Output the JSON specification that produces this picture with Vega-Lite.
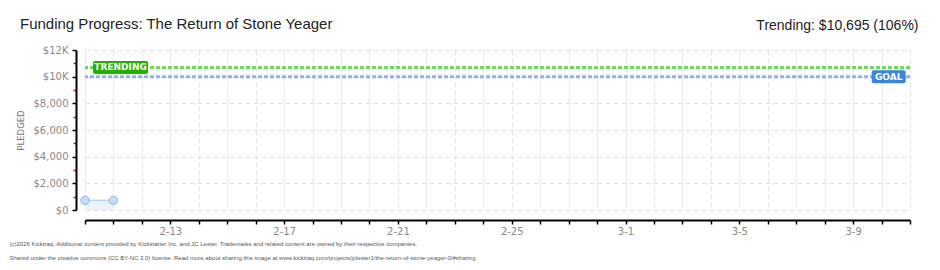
{
  "$schema": "https://vega.github.io/schema/vega-lite/v6.json",
  "autosize": {"type": "none"},
  "width": 825,
  "height": 160,
  "padding": {"left": 85, "top": 50, "right": 30, "bottom": 60},
  "background": "#ffffff",
  "config": {"view": {"stroke": null}},
  "title": {
    "text": "Funding Progress: The Return of Stone Yeager",
    "anchor": "start",
    "frame": "group",
    "dx": -65,
    "dy": 28,
    "offset": 14,
    "font": "Liberation Sans",
    "fontSize": 15,
    "fontWeight": "normal",
    "color": "#222222"
  },
  "datasets": {
    "pledges": [
      {"date": "2026-02-10T00:00:00", "pledged": 725},
      {"date": "2026-02-11T00:00:00", "pledged": 725}
    ],
    "lines": [
      {"name": "goal", "value": 10000},
      {"name": "trending", "value": 10695}
    ],
    "trendLabel": [{"label": "TRENDING", "date": "2026-02-11T06:00:00", "value": 10695}],
    "goalLabel": [{"label": "GOAL", "date": "2026-03-10T06:00:00", "value": 10000}]
  },
  "resolve": {"axis": {"x": "independent", "y": "independent"}},
  "layer": [
    {
      "data": {"name": "pledges"},
      "mark": {"type": "area", "color": "#eaf3fd", "opacity": 1},
      "encoding": {
        "x": {
          "field": "date",
          "type": "temporal",
          "scale": {"domain": [{"year": 2026, "month": 2, "date": 10}, {"year": 2026, "month": 3, "date": 11}]},
          "axis": {
            "tickCount": {"interval": "day", "step": 1},
            "labelExpr": "indexof(['2-13','2-17','2-21','2-25','3-1','3-5','3-9'], timeFormat(datum.value,'%-m-%-d')) >= 0 ? timeFormat(datum.value,'%-m-%-d') : ''",
            "labelOverlap": false,
            "labelFlush": false,
            "offset": 10,
            "tickSize": 4,
            "tickWidth": 1.5,
            "tickColor": "#000000",
            "domainColor": "#000000",
            "domainWidth": 2,
            "grid": true,
            "gridDash": [5, 3],
            "gridColor": "#e2e2e2",
            "gridWidth": 1,
            "labelFont": "DejaVu Sans",
            "labelFontSize": 10,
            "labelColor": "#888888",
            "labelPadding": 2,
            "title": [
              "(c)2026 Kicktraq. Additional content provided by Kickstarter Inc. and JC Lester. Trademarks and related content are owned by their respective companies.",
              "Shared under the creative commons (CC BY-NC 3.0) license. Read more about sharing this image at www.kicktraq.com/projects/jclester1/the-return-of-stone-yeager-0/#sharing"
            ],
            "titleX": -76,
            "titleY": 25,
            "titleAlign": "left",
            "titleAnchor": null,
            "titleBaseline": "alphabetic",
            "titleFont": "Liberation Sans",
            "titleFontSize": 6,
            "titleFontWeight": "normal",
            "titleColor": "#555555",
            "titleLineHeight": 14
          }
        },
        "y": {
          "field": "pledged",
          "type": "quantitative",
          "scale": {"domain": [0, 12000], "nice": false},
          "axis": {
            "values": [0, 1000, 2000, 3000, 4000, 5000, 6000, 7000, 8000, 9000, 10000, 11000, 12000],
            "labelExpr": "datum.value % 2000 != 0 ? '' : (datum.value >= 10000 ? '$' + (datum.value/1000) + 'K' : '$' + format(datum.value, ','))",
            "labelOverlap": false,
            "offset": 9,
            "domainColor": "#000000",
            "domainWidth": 2,
            "tickColor": {"expr": "datum.value % 2000 == 0 ? '#000000' : '#ee0000'"},
            "tickSize": {"expr": "datum.value % 2000 == 0 ? 4 : 3"},
            "tickWidth": 1.5,
            "grid": true,
            "gridDash": [5, 3],
            "gridColor": "#e2e2e2",
            "gridOpacity": {"expr": "datum.value % 2000 == 0 ? 1 : 0"},
            "labelFont": "DejaVu Sans",
            "labelFontSize": 10,
            "labelColor": "#888888",
            "labelPadding": 4,
            "title": "PLEDGED",
            "titleFont": "DejaVu Sans",
            "titleFontSize": 8.5,
            "titleFontWeight": "normal",
            "titleColor": "#777777",
            "titleAngle": -90,
            "titleX": -56,
            "titleY": 80,
            "titleAlign": "center",
            "titleBaseline": "middle"
          }
        }
      }
    },
    {
      "data": {"name": "pledges"},
      "mark": {"type": "line", "color": "#b5d3f5", "strokeWidth": 1.5},
      "encoding": {
        "x": {"field": "date", "type": "temporal", "axis": null},
        "y": {"field": "pledged", "type": "quantitative", "axis": null}
      }
    },
    {
      "data": {"name": "pledges"},
      "mark": {"type": "point", "shape": "circle", "filled": true, "fill": "#c6dcf6", "stroke": "#8db5e6", "strokeWidth": 1, "opacity": 1, "size": 70},
      "encoding": {
        "x": {"field": "date", "type": "temporal", "axis": null},
        "y": {"field": "pledged", "type": "quantitative", "axis": null}
      }
    },
    {
      "data": {"name": "lines"},
      "mark": {"type": "rule", "strokeWidth": 3, "strokeDash": [4, 2]},
      "encoding": {
        "y": {"field": "value", "type": "quantitative", "axis": null},
        "color": {
          "field": "name",
          "type": "nominal",
          "scale": {"domain": ["goal", "trending"], "range": ["#8fb4e3", "#6fd95e"]},
          "legend": null
        }
      }
    },
    {
      "data": {"name": "trendLabel"},
      "mark": {"type": "rect", "color": "#22b000", "width": 55, "height": 13, "cornerRadius": 2},
      "encoding": {
        "x": {"field": "date", "type": "temporal", "axis": null},
        "y": {"field": "value", "type": "quantitative", "axis": null}
      }
    },
    {
      "data": {"name": "goalLabel"},
      "mark": {"type": "rect", "color": "#3a86d6", "width": 34, "height": 13, "cornerRadius": 2},
      "encoding": {
        "x": {"field": "date", "type": "temporal", "axis": null},
        "y": {"field": "value", "type": "quantitative", "axis": null}
      }
    },
    {
      "data": {"name": "trendLabel"},
      "mark": {"type": "text", "color": "#ffffff", "font": "DejaVu Sans", "fontSize": 9, "fontWeight": "bold", "align": "center", "baseline": "middle"},
      "encoding": {
        "x": {"field": "date", "type": "temporal", "axis": null},
        "y": {"field": "value", "type": "quantitative", "axis": null},
        "text": {"field": "label"}
      }
    },
    {
      "data": {"name": "goalLabel"},
      "mark": {"type": "text", "color": "#ffffff", "font": "DejaVu Sans", "fontSize": 9, "fontWeight": "bold", "align": "center", "baseline": "middle"},
      "encoding": {
        "x": {
          "field": "date",
          "type": "temporal",
          "axis": {
            "orient": "top",
            "labels": false,
            "ticks": false,
            "domain": false,
            "grid": false,
            "title": "Trending: $10,695 (106%)",
            "titleX": 833,
            "titleY": -21,
            "titleAlign": "right",
            "titleAnchor": null,
            "titleBaseline": "alphabetic",
            "titleFont": "Liberation Sans",
            "titleFontSize": 14,
            "titleFontWeight": "normal",
            "titleColor": "#222222"
          }
        },
        "y": {"field": "value", "type": "quantitative", "axis": null},
        "text": {"field": "label"}
      }
    }
  ]
}
